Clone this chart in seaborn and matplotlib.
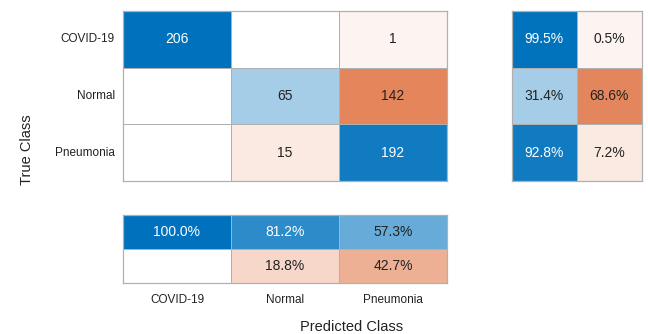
import numpy as np
import matplotlib
matplotlib.use("Agg")
import matplotlib.pyplot as plt
from matplotlib.colors import LinearSegmentedColormap, to_rgb
import seaborn as sns

classes = ["COVID-19", "Normal", "Pneumonia"]
counts = np.array([[206, 0, 1],
                   [0, 65, 142],
                   [0, 15, 192]])
# row summary: correct / incorrect share per true class (%)
row_pct = np.array([[99.5, 0.5],
                    [31.4, 68.6],
                    [92.8, 7.2]])
# column summary: correct / incorrect share per predicted class (%)
col_pct = np.array([[100.0, 81.2, 57.3],
                    [0.0, 18.8, 42.7]])

sns.set_theme(style="white")
plt.rcParams["font.family"] = ["Liberation Sans", "DejaVu Sans"]

BLUE = "#0072BD"
ORANGE = "#D95319"
GRID = "#b0b0b0"
TEXT = "#222222"


def shade_cmap(name, base, floor=0.06):
    """White for zero, then a faint tint rising linearly to the base colour."""
    b = np.array(to_rgb(base))
    w = np.ones(3)
    tint = w + floor * (b - w)
    return LinearSegmentedColormap.from_list(
        name, [(0.0, w), (0.002, tint), (1.0, b)])


blue_cmap = shade_cmap("mblue", BLUE)
orange_cmap = shade_cmap("morange", ORANGE)

fig = plt.figure(figsize=(6.48, 3.34), dpi=100)
ax_main = fig.add_axes([0.1898, 0.458, 0.5, 0.509])
ax_row = fig.add_axes([0.790, 0.458, 0.2006, 0.509])
ax_col = fig.add_axes([0.1898, 0.1527, 0.5, 0.2036])


def panel(ax, data, good_mask, vmax, labels):
    sns.heatmap(data, mask=~good_mask, cmap=blue_cmap, vmin=0, vmax=vmax, cbar=False,
                linewidths=0.5, linecolor=GRID, ax=ax)
    sns.heatmap(data, mask=good_mask, cmap=orange_cmap, vmin=0, vmax=vmax, cbar=False,
                linewidths=0.5, linecolor=GRID, ax=ax)
    for (i, j), v in np.ndenumerate(data):
        if v == 0:
            continue
        t = v / vmax
        color = "white" if (good_mask[i, j] and t > 0.75) else TEXT
        ax.text(j + 0.5, i + 0.5, labels[i][j], ha="center", va="center",
                fontsize=10, color=color)
    for s in ax.spines.values():
        s.set_visible(True)
        s.set_color(GRID)
        s.set_linewidth(0.9)
    ax.set_xticks([])
    ax.set_yticks([])
    ax.set_xlabel("")
    ax.set_ylabel("")


# main confusion matrix
diag = np.eye(3, dtype=bool)
panel(ax_main, counts, diag, counts.max(),
      [[str(v) for v in r] for r in counts])
ax_main.set_yticks(np.arange(3) + 0.5)
ax_main.set_yticklabels(classes, rotation=0, fontsize=8.5, color=TEXT)
ax_main.tick_params(axis="y", length=0, pad=6)

# row summary
row_good = np.zeros_like(row_pct, dtype=bool)
row_good[:, 0] = True
panel(ax_row, row_pct, row_good, 100,
      [[f"{v:.1f}%" for v in r] for r in row_pct])

# column summary
col_good = np.zeros_like(col_pct, dtype=bool)
col_good[0, :] = True
panel(ax_col, col_pct, col_good, 100,
      [[f"{v:.1f}%" for v in r] for r in col_pct])
ax_col.set_xticks(np.arange(3) + 0.5)
ax_col.set_xticklabels(classes, fontsize=8.5, color=TEXT)
ax_col.tick_params(axis="x", length=0, pad=8)

fig.text(0.042, 0.551, "True Class", ha="center", va="center",
         rotation=90, fontsize=10.5, color=TEXT)
fig.text(0.543, 0.022, "Predicted Class", ha="center", va="center",
         fontsize=10.5, color=TEXT)

fig.savefig("out.png", dpi=100)
